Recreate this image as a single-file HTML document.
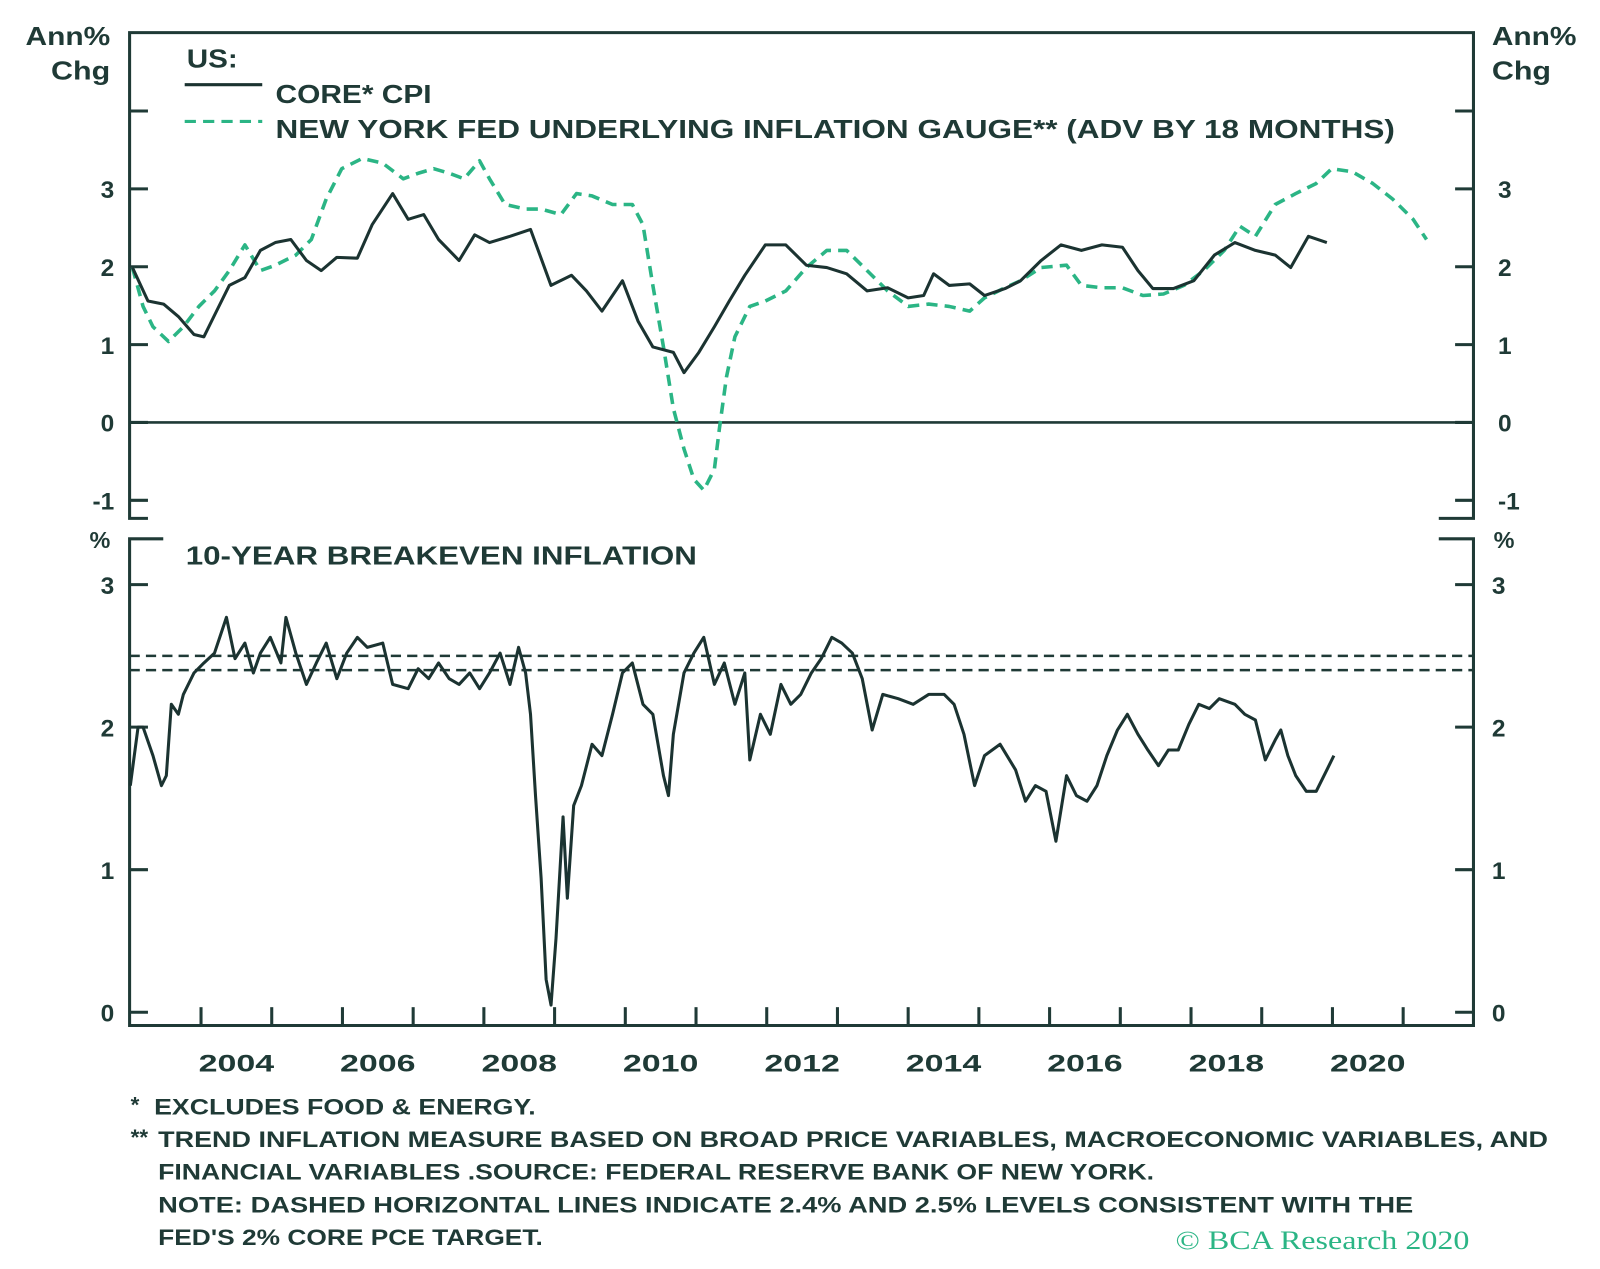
<!DOCTYPE html>
<html><head><meta charset="utf-8"><style>
html,body{margin:0;padding:0;background:#fff;}
svg{display:block;font-family:"Liberation Sans",sans-serif;}
</style></head><body>
<svg id="chart" width="1600" height="1269" viewBox="0 0 1568 1243.6" preserveAspectRatio="none">
<g id="static" fill="#1f3a36" font-weight="bold">
<text x="25" y="44" font-size="25" textLength="83" lengthAdjust="spacingAndGlyphs">Ann%</text>
<text x="50" y="78" font-size="25" textLength="58" lengthAdjust="spacingAndGlyphs">Chg</text>
<text x="1462" y="44" font-size="25" textLength="83" lengthAdjust="spacingAndGlyphs">Ann%</text>
<text x="1462" y="78" font-size="25" textLength="58" lengthAdjust="spacingAndGlyphs">Chg</text>
<text x="183" y="66" font-size="25" textLength="50" lengthAdjust="spacingAndGlyphs">US:</text>
<line x1="181" y1="83" x2="257" y2="83" stroke="#1b3331" stroke-width="3"/>
<text x="270" y="101" font-size="25" textLength="153" lengthAdjust="spacingAndGlyphs">CORE* CPI</text>
<line x1="181" y1="119" x2="257" y2="119" stroke="#2bb585" stroke-width="3" stroke-dasharray="11,7"/>
<text x="270" y="135" font-size="25" textLength="1097" lengthAdjust="spacingAndGlyphs">NEW YORK FED UNDERLYING INFLATION GAUGE** (ADV BY 18 MONTHS)</text>
<text x="182" y="553" font-size="25" textLength="501" lengthAdjust="spacingAndGlyphs">10-YEAR BREAKEVEN INFLATION</text>
<text x="98" y="537" font-size="23" text-anchor="middle">%</text>
<text x="1474" y="537" font-size="23" text-anchor="middle">%</text>
<g font-size="22">
<text x="128" y="1090">*</text>
<text x="151" y="1092" textLength="374" lengthAdjust="spacingAndGlyphs">EXCLUDES FOOD &amp; ENERGY.</text>
<text x="128" y="1122">**</text>
<text x="155" y="1124" textLength="1362" lengthAdjust="spacingAndGlyphs">TREND INFLATION MEASURE BASED ON BROAD PRICE VARIABLES, MACROECONOMIC VARIABLES, AND</text>
<text x="155" y="1156" textLength="976" lengthAdjust="spacingAndGlyphs">FINANCIAL VARIABLES .SOURCE: FEDERAL RESERVE BANK OF NEW YORK.</text>
<text x="155" y="1188" textLength="1230" lengthAdjust="spacingAndGlyphs">NOTE: DASHED HORIZONTAL LINES INDICATE 2.4% AND 2.5% LEVELS CONSISTENT WITH THE</text>
<text x="155" y="1220" textLength="377" lengthAdjust="spacingAndGlyphs">FED'S 2% CORE PCE TARGET.</text>
</g>
<text x="1152" y="1224" font-size="26" font-weight="normal" fill="#2bb585" textLength="288" lengthAdjust="spacingAndGlyphs" font-family="Liberation Serif,serif">© BCA Research 2020</text>
</g>
<g id="plot"></g>
</svg>
<script>
const cpiYears=[2003.03,2003.25,2003.47,2003.68,2003.90,2004.04,2004.22,2004.40,2004.62,2004.84,2005.05,2005.27,2005.49,2005.70,2005.92,2006.21,2006.42,2006.71,2006.93,2007.15,2007.36,2007.65,2007.87,2008.08,2008.37,2008.66,2008.95,2009.24,2009.45,2009.67,2009.96,2010.18,2010.39,2010.68,2010.83,2011.04,2011.26,2011.47,2011.69,2011.98,2012.27,2012.56,2012.85,2013.13,2013.42,2013.71,2014.00,2014.22,2014.36,2014.58,2014.87,2015.08,2015.37,2015.59,2015.88,2016.16,2016.45,2016.74,2017.03,2017.25,2017.46,2017.75,2018.04,2018.33,2018.62,2018.91,2019.19,2019.41,2019.66,2019.92];
const cpiValues=[1.99,1.56,1.52,1.36,1.13,1.10,1.43,1.76,1.86,2.21,2.31,2.35,2.08,1.95,2.12,2.11,2.54,2.94,2.61,2.67,2.35,2.08,2.41,2.31,2.39,2.48,1.76,1.89,1.69,1.43,1.82,1.30,0.97,0.90,0.64,0.90,1.23,1.56,1.89,2.28,2.28,2.02,1.99,1.91,1.69,1.73,1.60,1.63,1.91,1.76,1.78,1.63,1.72,1.82,2.08,2.28,2.21,2.28,2.25,1.95,1.72,1.72,1.82,2.15,2.31,2.21,2.15,1.99,2.39,2.31];
const uigYears=[2003.03,2003.18,2003.32,2003.54,2003.75,2003.97,2004.19,2004.40,2004.62,2004.84,2005.05,2005.34,2005.56,2005.77,2005.99,2006.28,2006.57,2006.86,2007.07,2007.29,2007.51,2007.72,2007.94,2008.08,2008.30,2008.59,2008.81,2009.09,2009.31,2009.53,2009.82,2010.10,2010.25,2010.39,2010.54,2010.68,2010.83,2010.97,2011.11,2011.26,2011.33,2011.43,2011.55,2011.76,2011.98,2012.27,2012.56,2012.85,2013.13,2013.42,2013.71,2014.00,2014.29,2014.58,2014.87,2015.08,2015.37,2015.59,2015.88,2016.24,2016.45,2016.74,2017.03,2017.32,2017.61,2017.90,2018.18,2018.47,2018.69,2018.91,2019.19,2019.48,2019.77,2019.99,2020.28,2020.57,2020.85,2021.14,2021.33];
const uigValues=[1.99,1.49,1.23,1.04,1.23,1.49,1.69,1.95,2.28,1.95,2.02,2.15,2.35,2.87,3.26,3.39,3.33,3.13,3.20,3.26,3.20,3.13,3.36,3.13,2.80,2.74,2.74,2.67,2.94,2.91,2.80,2.80,2.54,1.76,0.97,0.18,-0.34,-0.73,-0.87,-0.60,-0.08,0.58,1.10,1.49,1.56,1.69,1.99,2.21,2.21,1.95,1.69,1.49,1.52,1.49,1.43,1.60,1.73,1.82,1.99,2.02,1.76,1.73,1.73,1.63,1.65,1.76,1.95,2.21,2.52,2.39,2.80,2.94,3.07,3.26,3.22,3.07,2.87,2.61,2.35];
const beYears=[2003.00,2003.11,2003.18,2003.32,2003.44,2003.51,2003.58,2003.68,2003.75,2003.90,2004.04,2004.19,2004.36,2004.48,2004.62,2004.74,2004.84,2004.98,2005.13,2005.20,2005.34,2005.49,2005.63,2005.77,2005.92,2006.06,2006.21,2006.35,2006.57,2006.71,2006.93,2007.07,2007.22,2007.36,2007.51,2007.65,2007.80,2007.94,2008.08,2008.23,2008.37,2008.49,2008.59,2008.66,2008.73,2008.81,2008.88,2008.95,2009.02,2009.12,2009.18,2009.27,2009.38,2009.53,2009.67,2009.82,2009.96,2010.10,2010.25,2010.39,2010.54,2010.61,2010.68,2010.83,2010.97,2011.11,2011.26,2011.40,2011.55,2011.69,2011.76,2011.91,2012.05,2012.20,2012.34,2012.48,2012.63,2012.77,2012.92,2013.06,2013.21,2013.35,2013.49,2013.64,2013.86,2014.07,2014.29,2014.51,2014.65,2014.79,2014.94,2015.08,2015.30,2015.52,2015.66,2015.80,2015.95,2016.09,2016.24,2016.38,2016.53,2016.67,2016.81,2016.96,2017.10,2017.25,2017.39,2017.54,2017.68,2017.82,2017.97,2018.11,2018.26,2018.40,2018.62,2018.76,2018.91,2019.05,2019.19,2019.27,2019.37,2019.48,2019.63,2019.77,2019.92,2020.02];
const beValues=[1.59,2.00,2.00,1.80,1.59,1.66,2.16,2.09,2.23,2.38,2.45,2.52,2.77,2.48,2.59,2.38,2.52,2.63,2.45,2.77,2.52,2.30,2.45,2.59,2.34,2.52,2.63,2.56,2.59,2.30,2.27,2.41,2.34,2.45,2.34,2.30,2.38,2.27,2.38,2.52,2.30,2.56,2.38,2.09,1.52,0.94,0.23,0.05,0.52,1.37,0.80,1.45,1.59,1.88,1.80,2.09,2.38,2.45,2.16,2.09,1.66,1.52,1.95,2.38,2.52,2.63,2.30,2.45,2.16,2.38,1.77,2.09,1.95,2.30,2.16,2.23,2.38,2.48,2.63,2.59,2.52,2.34,1.98,2.23,2.20,2.16,2.23,2.23,2.16,1.95,1.59,1.80,1.88,1.70,1.48,1.59,1.55,1.20,1.66,1.52,1.48,1.59,1.80,1.98,2.09,1.95,1.84,1.73,1.84,1.84,2.02,2.16,2.13,2.20,2.16,2.09,2.05,1.77,1.91,1.98,1.80,1.66,1.55,1.55,1.70,1.80];
const topTicks=[-1,0,1,2,3,4];
const topTickLabels=["-1","0","1","2","3",""];
const botTicks=[0,1,2,3];
const targetLevels=[2.4,2.5];
const yearLabels=[2004,2006,2008,2010,2012,2014,2016,2018,2020];

const NS="http://www.w3.org/2000/svg";
const L=127,R=1444;
const xs=t=>197+(t-2004)*69.3;
const yTop=v=>414-v*76.3;
const yBot=v=>992-v*139.7;
const g=document.getElementById('plot');
function mk(tag,a,p){const e=document.createElementNS(NS,tag);for(const k in a)e.setAttribute(k,a[k]);(p||g).appendChild(e);return e;}
const C="#1f3a36";
const f1=mk('path',{d:`M${L+18},508 H${L} V32 H${R} V508 H${R-34}`,fill:'none',stroke:C,'stroke-width':3});


const f2=mk('path',{d:`M${L+33},528 H${L} V1005 H${R} V528 H${R-34}`,fill:'none',stroke:C,'stroke-width':3});


topTicks.forEach((v,i)=>{
  const y=yTop(v);
  const t=mk('path',{d:`M${L},${y}H${L+18}M${R},${y}H${R-18}`,stroke:C,'stroke-width':3});
  
  
  if(topTickLabels[i]!==""){
    const a=mk('text',{x:112,y:y+9,'font-size':24,'font-weight':'bold',fill:C,'text-anchor':'end'});a.textContent=topTickLabels[i];
    
    
    const b=mk('text',{x:1468,y:y+9,'font-size':24,'font-weight':'bold',fill:C});b.textContent=topTickLabels[i];
    
    
  }
});
botTicks.forEach(v=>{
  const y=yBot(v);
  const t=mk('path',{d:`M${L},${y}H${L+18}M${R},${y}H${R-18}`,stroke:C,'stroke-width':3});
  
  
  const a=mk('text',{x:112,y:y+9,'font-size':24,'font-weight':'bold',fill:C,'text-anchor':'end'});a.textContent=v;
  
  
  const b=mk('text',{x:1462,y:y+9,'font-size':24,'font-weight':'bold',fill:C});b.textContent=v;
  
  
});
for(let yr=2004;yr<=2021;yr++){
  const x=xs(yr);
  const t=mk('line',{x1:x,x2:x,y1:1005,y2:987,stroke:C,'stroke-width':3});
  
  
}
yearLabels.forEach(yr=>{
  const a=mk('text',{x:xs(yr+0.5)-37,y:1050,'font-size':24,'font-weight':'bold',fill:C,textLength:74,lengthAdjust:'spacingAndGlyphs'});a.textContent=yr;
  
  
});
const z=mk('line',{x1:L,x2:R,y1:yTop(0),y2:yTop(0),stroke:C,'stroke-width':2.5});


targetLevels.forEach(v=>{
  const l=mk('line',{x1:L,x2:R,y1:yBot(v),y2:yBot(v),stroke:C,'stroke-width':2.5,'stroke-dasharray':'10,6'});
  
  
});
function pathOf(xa,ya,fy){return xa.map((t,i)=>(i?'L':'M')+xs(t).toFixed(1)+','+fy(ya[i]).toFixed(1)).join('');}
const u=mk('path',{d:pathOf(uigYears,uigValues,yTop),fill:'none',stroke:'#2bb585','stroke-width':3.5,'stroke-dasharray':'11,7','stroke-linejoin':'round'});


const c=mk('path',{d:pathOf(cpiYears,cpiValues,yTop),fill:'none',stroke:'#1b3331','stroke-width':3,'stroke-linejoin':'round'});


const b=mk('path',{d:pathOf(beYears,beValues,yBot),fill:'none',stroke:'#1b3331','stroke-width':3,'stroke-linejoin':'round'});


</script>
</body></html>
